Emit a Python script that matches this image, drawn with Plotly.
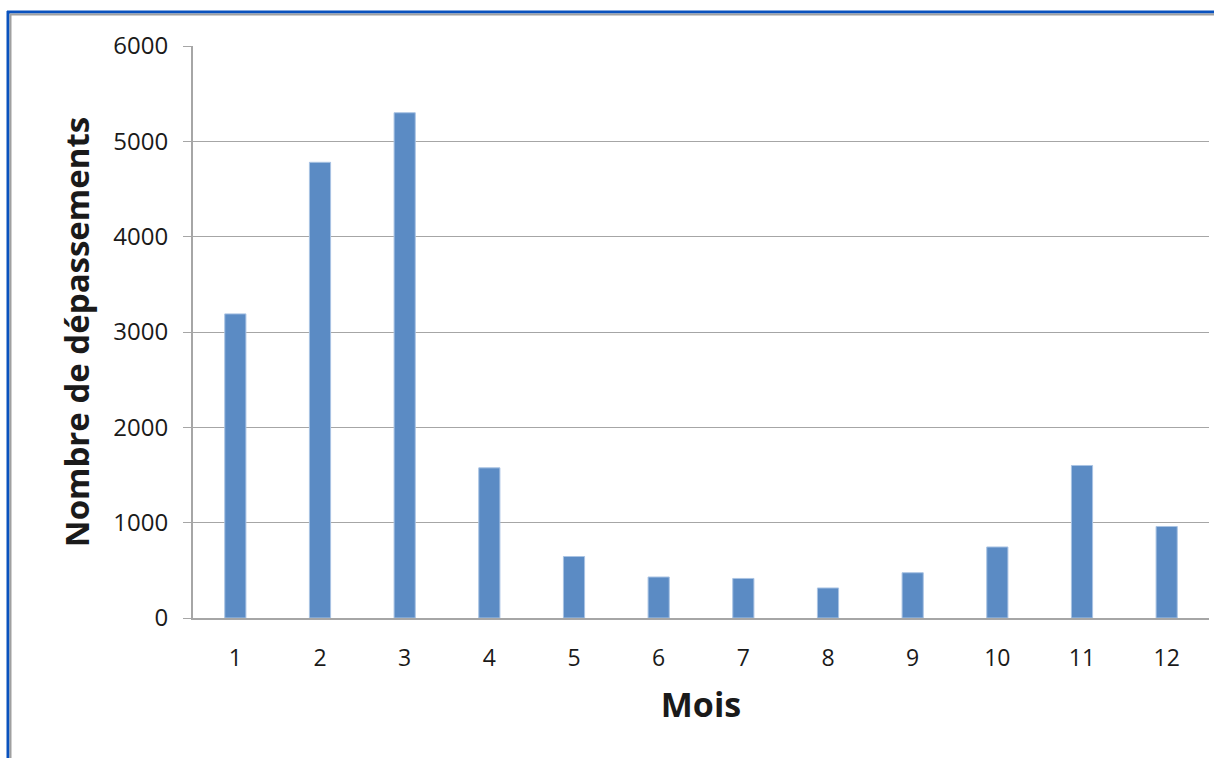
import plotly.graph_objects as go

# Monthly exceedance counts
mois = [str(m) for m in range(1, 13)]
depassements = [3190, 4780, 5300, 1575, 645, 430, 415, 315, 475, 745, 1600, 960]
y_ticks = [0, 1000, 2000, 3000, 4000, 5000, 6000]

W, H = 1214, 758
L, R, T, B = 193, 5, 46, 140
pw, ph = W - L - R, H - T - B


def px_x(x):
    return (x - L) / pw


def px_y(y):
    return (H - B - y) / ph


fig = go.Figure(
    go.Bar(
        x=mois,
        y=depassements,
        marker=dict(color="#5B8BC4", line=dict(color="#A9C3E3", width=1)),
        width=0.25,
    )
)

grid = "#A6A6A6"
fig.update_layout(
    width=W,
    height=H,
    margin=dict(l=L, r=R, t=T, b=B),
    paper_bgcolor="white",
    plot_bgcolor="white",
    showlegend=False,
    font=dict(family="Open Sans, sans-serif", color="#1a1a1a"),
    xaxis=dict(
        type="category",
        showgrid=False,
        showline=True,
        linecolor=grid,
        linewidth=2,
        ticks="",
        tickfont=dict(size=23, family="Open Sans"),
        ticklabelstandoff=18,
        title=dict(text="<b>Mois</b>", font=dict(size=34, family="Open Sans"), standoff=22),
    ),
    yaxis=dict(
        range=[0, 6000],
        tickvals=y_ticks,
        showgrid=True,
        gridcolor=grid,
        gridwidth=1,
        showline=True,
        linecolor=grid,
        linewidth=2,
        ticks="outside",
        ticklen=8,
        tickcolor=grid,
        tickfont=dict(size=24, family="Open Sans"),
        ticklabelstandoff=10,
        zeroline=False,
        title=dict(text="<b>Nombre de dépassements</b>", font=dict(size=33, family="Open Sans"), standoff=14),
    ),
    shapes=[
        # window frame: blue outer edge with a grey inner edge
        dict(type="line", xref="paper", yref="paper", x0=px_x(7), x1=px_x(1214), y0=px_y(12), y1=px_y(12),
             line=dict(color="#0A52BE", width=3)),
        dict(type="line", xref="paper", yref="paper", x0=px_x(10), x1=px_x(1214), y0=px_y(14.5), y1=px_y(14.5),
             line=dict(color="#A0A0A0", width=2)),
        dict(type="line", xref="paper", yref="paper", x0=px_x(8), x1=px_x(8), y0=px_y(11), y1=px_y(758),
             line=dict(color="#0A52BE", width=3)),
        dict(type="line", xref="paper", yref="paper", x0=px_x(10.5), x1=px_x(10.5), y0=px_y(14), y1=px_y(758),
             line=dict(color="#A0A0A0", width=2)),
    ],
)

fig.write_html("out.html")
